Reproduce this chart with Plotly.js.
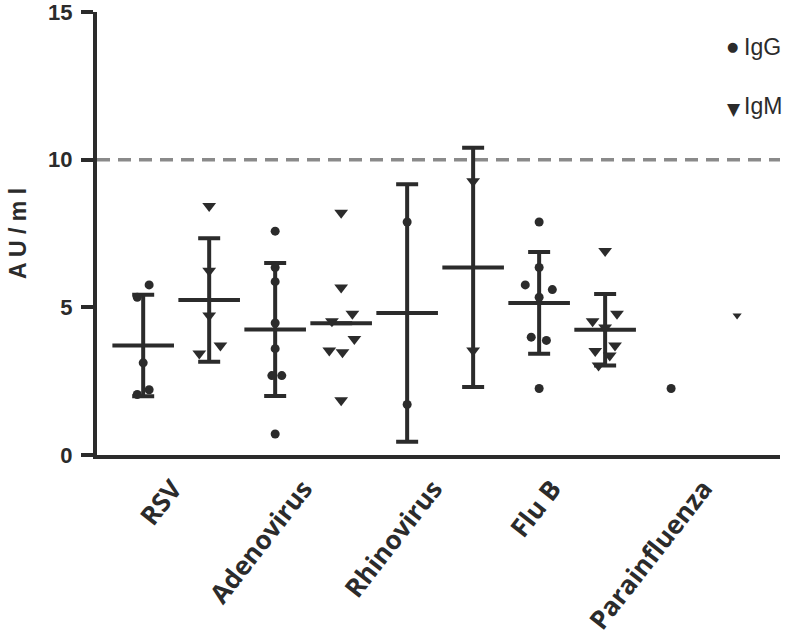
<!DOCTYPE html>
<html><head><meta charset="utf-8">
<script src="https://cdn.plot.ly/plotly-3.0.1.min.js"></script>
<style>html,body{margin:0;padding:0;background:#fff}#chart{width:790px;height:642px}</style>
</head><body><div id="chart"></div>
<script>
// ---- data (AU/ml) ----
const categories = ['RSV', 'Adenovirus', 'Rhinovirus', 'Flu B', 'Parainfluenza'];

const rsvIgG   = [5.76, 5.34, 3.12, 2.21, 2.05];
const rsvIgM   = [8.43, 6.24, 4.72, 3.71, 3.44];
const adenoIgG = [7.58, 6.35, 5.87, 4.47, 3.60, 2.69, 2.69, 0.71];
const adenoIgM = [8.20, 5.67, 4.78, 4.53, 3.93, 3.54, 3.48, 1.85];
const rhinoIgG = [7.89, 1.71];
const rhinoIgM = [9.27, 3.54];
const flubIgG  = [7.89, 6.35, 5.76, 5.60, 5.34, 3.99, 3.88, 2.25];
const flubIgM  = [6.91, 4.78, 4.53, 4.32, 3.71, 3.52, 3.37, 3.03];
const paraIgG  = [2.25];
const paraIgM  = [4.72];

// group means and SD bars
const iggMeans = [3.71, 4.25, 4.81, 5.15, null];
const iggSD    = [1.72, 2.25, 4.36, 1.72, null];
const igmMeans = [5.25, 4.46, 6.35, 4.24, null];
const igmSD    = [2.09, null, 4.05, 1.21, null];

const cutoff = 10;
const yTickVals = [0, 5, 10, 15];

// ---- horizontal scatter of the dots inside a column (category units) ----
const rsvIgGJit   = [0.09, -0.09, 0, 0.09, -0.09];
const rsvIgMJit   = [0, 0, 0, 0.17, -0.15];
const adenoIgGJit = [0, 0, 0, 0, 0, -0.05, 0.10, 0];
const adenoIgMJit = [0, 0, 0.17, -0.14, 0.20, -0.18, 0.02, 0];
const rhinoIgGJit = [0, 0];
const rhinoIgMJit = [0, 0];
const flubIgGJit  = [0, 0, -0.21, 0.20, 0, -0.12, 0.11, 0];
const flubIgMJit  = [0, 0.18, -0.19, 0, 0.15, -0.15, 0.07, -0.10];
const paraIgGJit  = [0];
const paraIgMJit  = [0];

// where each category label ends (category units)
const labelPos = [0.45, 2.43, 4.40, 6.20, 8.49];

const INK = '#2b2b2b';
const iggSets = [[rsvIgG, rsvIgGJit], [adenoIgG, adenoIgGJit], [rhinoIgG, rhinoIgGJit], [flubIgG, flubIgGJit], [paraIgG, paraIgGJit]];
const igmSets = [[rsvIgM, rsvIgMJit], [adenoIgM, adenoIgMJit], [rhinoIgM, rhinoIgMJit], [flubIgM, flubIgMJit], [paraIgM, paraIgMJit]];

const traces = [];

// mean lines with SD bars
function meanTrace(means, sds, offset, name) {
  const x = [], y = [], e = [];
  means.forEach((m, i) => { if (m !== null) { x.push(2 * i + offset); y.push(m); e.push(sds[i]); } });
  return {
    type: 'scatter', mode: 'markers', name: name, x: x, y: y, showlegend: false, hoverinfo: 'y',
    marker: { symbol: 'line-ew', size: 44, color: INK, line: { color: INK, width: 4 } },
    error_y: { type: 'data', array: e, visible: true, thickness: 4, width: 11, color: INK },
    cliponaxis: false
  };
}
traces.push(meanTrace(iggMeans, iggSD, 0, 'IgG mean'));
traces.push(meanTrace(igmMeans, igmSD, 1, 'IgM mean'));

// individual points
iggSets.forEach(([vals, jit], i) => {
  traces.push({
    type: 'scatter', mode: 'markers', name: categories[i] + ' IgG', showlegend: false,
    x: vals.map((v, k) => 2 * i + jit[k]), y: vals,
    marker: { symbol: 'circle', size: 9, color: INK }, cliponaxis: false
  });
});
igmSets.forEach(([vals, jit], i) => {
  traces.push({
    type: 'scatter', mode: 'markers', name: categories[i] + ' IgM', showlegend: false,
    x: vals.map((v, k) => 2 * i + 1 + jit[k]), y: vals,
    marker: { symbol: 'triangle-down', size: i === 4 ? 8 : 12, color: INK }, cliponaxis: false
  });
});

const layout = {
  width: 790, height: 642,
  margin: { l: 97, r: 10, t: 12, b: 187 },
  paper_bgcolor: '#fff', plot_bgcolor: '#fff',
  showlegend: false,
  xaxis: {
    range: [-0.7, 9.65], showgrid: false, zeroline: false,
    showline: true, linecolor: INK, linewidth: 4,
    ticks: '', tickvals: labelPos, ticktext: categories, tickangle: -52,
    ticklabelstandoff: 4, ticklabeloverflow: 'allow',
    tickfont: { family: 'Open Sans', size: 26, weight: 700, color: INK }
  },
  yaxis: {
    range: [0, 15], showgrid: false, zeroline: false,
    showline: true, linecolor: INK, linewidth: 4,
    ticks: 'outside', ticklen: 12, tickwidth: 4, tickcolor: INK,
    tickvals: yTickVals, ticklabelstandoff: 4, ticklabeloverflow: 'allow',
    tickfont: { family: 'Liberation Sans', size: 22, weight: 'bold', color: INK },
    title: { text: 'A U / m l', standoff: 16, font: { family: 'Liberation Sans', size: 23, weight: 'bold', color: INK } }
  },
  shapes: [{
    type: 'line', layer: 'below', xref: 'paper', x0: 0, x1: 1, yref: 'y', y0: cutoff, y1: cutoff,
    line: { color: '#8a8a8a', width: 3.5, dash: '13px,8px' }
  }],
  annotations: [
    { xref: 'paper', yref: 'paper', x: 0.931, y: 0.921, text: '●', showarrow: false, xanchor: 'center', yanchor: 'middle', font: { family: 'DejaVu Sans', size: 13, color: INK } },
    { xref: 'paper', yref: 'paper', x: 0.944, y: 0.921, text: 'IgG', showarrow: false, xanchor: 'left', yanchor: 'middle', font: { family: 'Liberation Sans', size: 23, color: INK } },
    { xref: 'paper', yref: 'paper', x: 0.933, y: 0.782, text: '▼', showarrow: false, xanchor: 'center', yanchor: 'middle', font: { family: 'DejaVu Sans', size: 17, color: INK } },
    { xref: 'paper', yref: 'paper', x: 0.944, y: 0.787, text: 'IgM', showarrow: false, xanchor: 'left', yanchor: 'middle', font: { family: 'Liberation Sans', size: 23, color: INK } }
  ]
};

Plotly.newPlot('chart', traces, layout, { displayModeBar: false, staticPlot: true });
</script>
</body></html>
